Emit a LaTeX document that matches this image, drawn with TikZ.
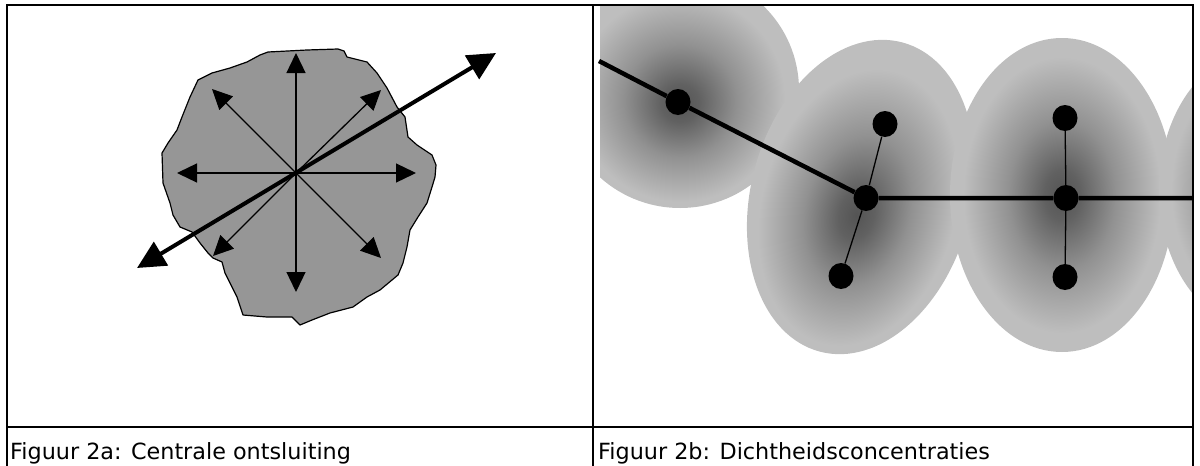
\documentclass[tikz,border=0pt]{standalone}
\usepackage{fontspec}
\setmainfont{DejaVu Sans}
\usetikzlibrary{arrows.meta,shapes.geometric}
\definecolor{blobgray}{gray}{0.59}
\definecolor{shdark}{gray}{0.33}
\definecolor{shdarkb}{gray}{0.38}
\definecolor{shmid}{gray}{0.57}
\definecolor{shlight}{gray}{0.745}
\pgfdeclareradialshading{density}{\pgfpoint{0bp}{0bp}}{color(0bp)=(shdark); color(4bp)=(shdarkb); color(12bp)=(shmid); color(22bp)=(shlight); color(50bp)=(shlight)}
\pgfdeclareradialshading{densitylow}{\pgfpoint{0bp}{-3bp}}{color(0bp)=(shdark); color(4bp)=(shdarkb); color(12bp)=(shmid); color(22bp)=(shlight); color(50bp)=(shlight)}
\tikzset{
  frameline/.style={line width=2pt, black},
  thinarr/.style={line width=1.3pt, -{Triangle[length=20pt,width=19pt]}},
  bigarr/.style={line width=4pt, {Triangle[length=28pt,width=27pt]}-{Triangle[length=28pt,width=27pt]}},
  blob/.style={fill=blobgray, draw=black, line width=1.2pt, line join=round},
  dens/.style={shading=density},
  denslow/.style={shading=densitylow},
  dot/.style={ellipse, fill=black, draw=none, minimum width=25pt, minimum height=26pt, inner sep=0pt},
  road/.style={line width=4.5pt, black},
  spoke/.style={line width=1.3pt, black},
  captext/.style={font=\fontsize{22.3}{26}\selectfont, inner sep=0pt, anchor=base west}
}
\begin{document}
\begin{tikzpicture}[x=1pt, y=-1pt]
\useasboundingbox (0,0) rectangle (1200,466);
% ---------- left panel: blob ----------
\draw[blob] (268,52) -- (307,50) -- (338,49) -- (344,51) -- (347,57) -- (367,62) -- (377,73) -- (387,88) -- (397,107) -- (405,117) -- (408,137) -- (417,145) -- (432,155) -- (436,165) -- (435,177) -- (432,187) -- (427,203) -- (418,217) -- (410,230) -- (407,247) -- (403,263) -- (398,275) -- (380,290) -- (367,297) -- (353,307) -- (330,313) -- (312,320) -- (300,325) -- (292,317) -- (267,317) -- (243,315) -- (237,297) -- (230,283) -- (225,273) -- (222,262) -- (213,258) -- (208,253) -- (200,243) -- (192,232) -- (180,227) -- (173,215) -- (170,203) -- (163,183) -- (162,153) -- (168,143) -- (177,130) -- (182,117) -- (190,97) -- (198,80) -- (212,73) -- (230,68) -- (247,62) -- (260,55) -- cycle;
\coordinate (c) at (296,173);
\coordinate (aN) at (296,53);
\coordinate (aS) at (296,292);
\coordinate (aW) at (177,173);
\coordinate (aE) at (416,173);
\coordinate (aNW) at (212,89);
\coordinate (aNE) at (381,90);
\coordinate (aSW) at (213,256);
\coordinate (aSE) at (381,258);
\coordinate (bigA) at (137,268);
\coordinate (bigB) at (496,53);
\foreach \t in {aN,aS,aW,aE,aNW,aNE,aSW,aSE} \draw[thinarr] (c) -- (\t);
\draw[bigarr] (bigA) -- (bigB);
% ---------- right panel: density ----------
\begin{scope}
\clip (600,6) rectangle (1192,426);
\shade[denslow] (680,90) ellipse [x radius=119pt, y radius=118pt];
\begin{scope}[transform canvas={shift={(861,197)}, rotate=-15}]
\shade[denslow] (0,0) ellipse [x radius=110pt, y radius=160pt];
\end{scope}
\shade[dens] (1062,195) ellipse [x radius=112pt, y radius=157pt];
\shade[dens] (1262,190) ellipse [x radius=103pt, y radius=140pt];
\end{scope}
\node[dot] (d1) at (678,102) {};
\node[dot] (j) at (866,198) {};
\node[dot] (jn) at (885,124) {};
\node[dot] (js) at (841,276) {};
\node[dot] (k) at (1066,198) {};
\node[dot] (kn) at (1065,118) {};
\node[dot] (ks) at (1065,277) {};
\coordinate (L) at (599,61);
\coordinate (R) at (1192,198);
\draw[road] (L) -- (d1) (d1) -- (j) (j) -- (k) (k) -- (R);
\draw[spoke] (j) -- (jn) (j) -- (js) (k) -- (kn) (k) -- (ks);
% ---------- frame ----------
\draw[frameline] (7,466) -- (7,5) -- (1193,5) -- (1193,466);
\draw[frameline] (593,5) -- (593,466);
\draw[frameline] (7,427) -- (1193,427);
\node[captext] (cap1) at (10,459) {Figuur 2a: Centrale ontsluiting};
\node[captext] (cap2) at (598,459) {Figuur 2b: Dichtheidsconcentraties};
\end{tikzpicture}
\end{document}
